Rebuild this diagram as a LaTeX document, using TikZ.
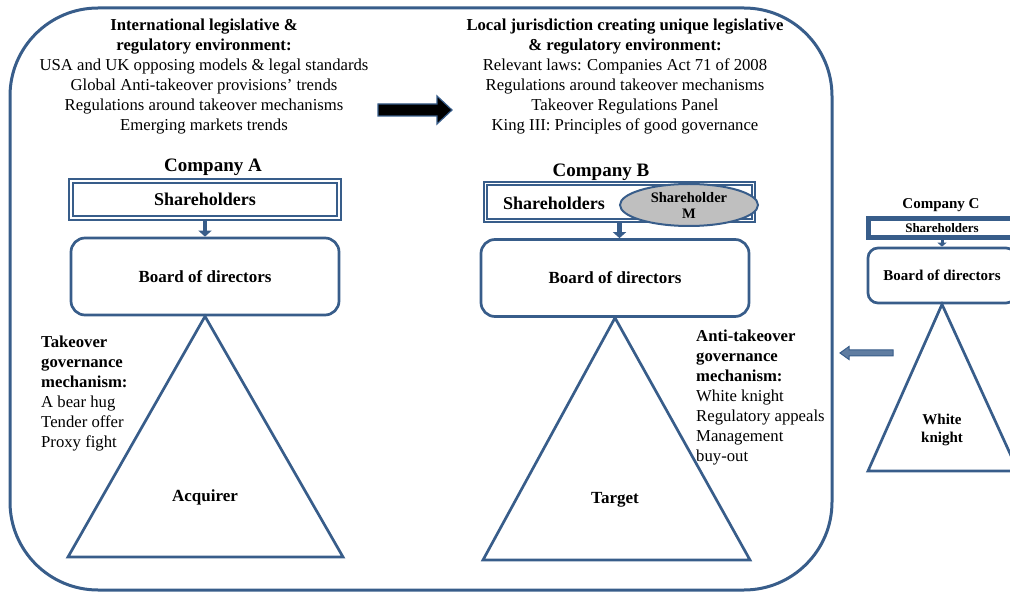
\documentclass[tikz,border=0pt]{standalone}
\usepackage{fontspec}
\setmainfont{Liberation Serif}
\usetikzlibrary{positioning,shapes.geometric,arrows.meta}
\definecolor{bdr}{HTML}{385D8A}
\definecolor{mgray}{HTML}{BFBFBF}

\begin{document}
\begin{tikzpicture}[x=1pt,y=-1pt,
  txt/.style={font=\fontsize{16.7}{20}\selectfont, inner sep=0pt},
  head/.style={font=\bfseries\fontsize{19}{20}\selectfont, inner sep=0pt},
  shbox/.style={draw=bdr, double=white, line width=2pt, double distance=1.2pt,
    minimum width=268pt, minimum height=37pt, inner sep=0pt,
    font=\bfseries\fontsize{18}{20}\selectfont},
  board/.style={draw=bdr, line width=2.7pt, rounded corners=14pt, inner sep=0pt,
    font=\bfseries\fontsize{17}{20}\selectfont},
  tri/.style={draw=bdr, line width=2.7pt, line join=miter},
  down/.style={draw=bdr, line width=4.5pt, -{Triangle[width=13pt,length=6pt]}},
  bold/.style={font=\bfseries\fontsize{17}{20}\selectfont, inner sep=0pt},
]
\clip (0,0) rectangle (1010,593);

% outer frame
\draw[bdr, line width=3pt, rounded corners=88pt] (10,8) rectangle (832,590);

% environments
\node[txt, anchor=north, align=center] (intl) at (204,19)
  {\textbf{International legislative \&}\\
   \textbf{regulatory environment:}\\
   USA and UK opposing models \& legal standards\\
   Global Anti-takeover provisions' trends\\
   Regulations around takeover mechanisms\\
   Emerging markets trends};
\node[txt, anchor=north, align=center] (local) at (625,19)
  {\textbf{Local jurisdiction creating unique legislative}\\
   \textbf{\& regulatory environment:}\\
   Relevant laws: Companies Act 71 of 2008\\
   Regulations around takeover mechanisms\\
   Takeover Regulations Panel\\
   King III: Principles of good governance};
\filldraw[fill=black, draw=bdr, line width=1.2pt]
  (378,104) -- (437,104) -- (437,96) -- (452,110) -- (437,124) -- (437,116) -- (378,116) -- cycle;

% company A
\node[head] (compA) at (213,167) {Company A};
\node[shbox] (shA) at (205,199.5) {Shareholders};
\node[board, minimum width=268pt, minimum height=77pt] (boardA) at (205,276.5) {Board of directors};
\draw[down] (shA.south) -- (shA.south |- boardA.north);
\draw[tri] (boardA.south) -- (68,557) -- (343,557) -- cycle;
\node[bold] (acq) at (205,497) {Acquirer};
\node[txt, anchor=north west, align=left] (mechA) at (41,336)
  {\textbf{Takeover}\\ \textbf{governance}\\ \textbf{mechanism:}\\
   A bear hug\\ Tender offer\\ Proxy fight};

% company B
\node[head] (compB) at (601,172) {Company B};
\node[shbox] (shB) at (619.5,202) {};
\node[font=\bfseries\fontsize{18}{20}\selectfont, inner sep=0pt] (shBtxt) at (554,203) {Shareholders};
\node[ellipse, draw=bdr, fill=mgray, line width=2pt, minimum width=138pt, minimum height=42pt,
  inner sep=0pt, align=center, font=\bfseries\fontsize{14.5}{16}\selectfont] (shM) at (689,205) {Shareholder\\M};
\node[board, minimum width=268pt, minimum height=77pt] (boardB) at (615,278) {Board of directors};
\draw[down] (shB.south) -- (shB.south |- boardB.north);
\draw[tri] (boardB.south) -- (483,560) -- (750,560) -- cycle;
\node[bold] (tgt) at (615,500) {Target};
\node[txt, anchor=north west, align=left] (mechB) at (696,330)
  {\textbf{Anti-takeover}\\ \textbf{governance}\\ \textbf{mechanism:}\\
   White knight\\ Regulatory appeals\\ Management\\ buy-out};

% company C
\node[font=\bfseries\fontsize{15}{16}\selectfont, inner sep=0pt] (compC) at (941,205) {Company C};
\node[draw=bdr, line width=5pt, minimum width=148pt, minimum height=19pt, inner sep=0pt,
  font=\bfseries\fontsize{13}{14}\selectfont] (shC) at (942,228) {Shareholders};
\node[board, rounded corners=10pt, minimum width=148pt, minimum height=55pt,
  font=\bfseries\fontsize{15}{16}\selectfont] (boardC) at (942,275.5) {Board of directors};
\draw[bdr, line width=3pt, -{Triangle[width=9pt,length=4pt]}] (shC.south) -- (shC.south |- boardC.north);
\draw[tri] (boardC.south) -- (868,471) -- (1018,471) -- cycle;
\node[font=\bfseries\fontsize{15}{18}\selectfont, inner sep=0pt, align=center] (wk) at (942,430) {White\\knight};
\filldraw[fill=bdr!80!white, draw=bdr, line width=1pt]
  (893,350) -- (849,350) -- (849,346.5) -- (840,353) -- (849,359.5) -- (849,356) -- (893,356) -- cycle;
\end{tikzpicture}
\end{document}
